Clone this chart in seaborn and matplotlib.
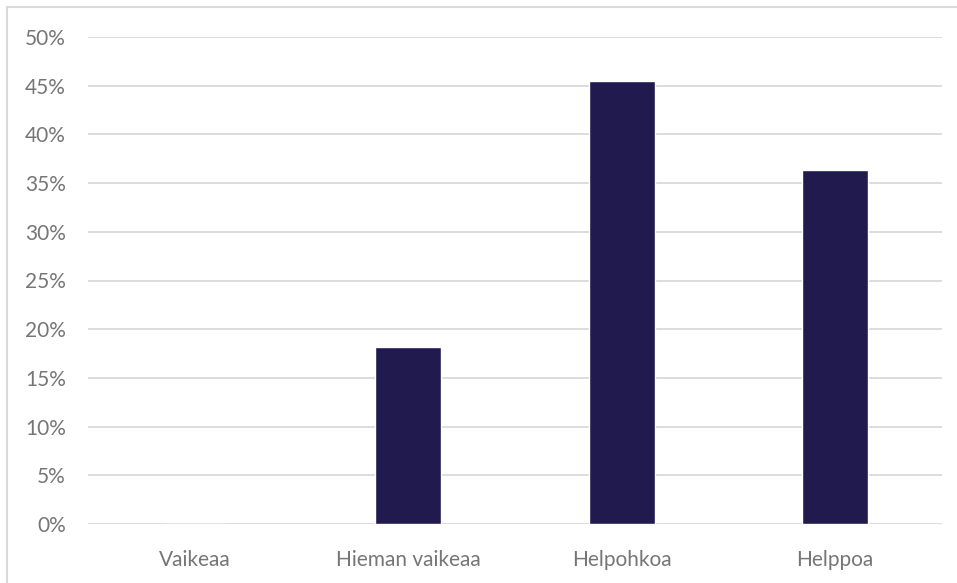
import matplotlib
matplotlib.use("Agg")
import matplotlib.pyplot as plt
import seaborn as sns
import pandas as pd
from matplotlib.patches import Rectangle
from matplotlib.ticker import PercentFormatter, MultipleLocator

categories = ["Vaikeaa", "Hieman vaikeaa", "Helpohkoa", "Helppoa"]
shares = [0.0, 2 / 11 * 100, 5 / 11 * 100, 4 / 11 * 100]

df = pd.DataFrame({"vastaus": categories, "osuus": shares})

sns.set_theme(style="white")
plt.rcParams["font.family"] = ["Lato", "DejaVu Sans"]

W, H = 957, 583
fig = plt.figure(figsize=(W / 100, H / 100), dpi=100)
fig.patch.set_facecolor("white")

# plot area in pixel coordinates
left, right, top, bottom = 88, 942, 37, 524
ax = fig.add_axes([left / W, 1 - bottom / H, (right - left) / W, (bottom - top) / H])

sns.barplot(data=df, x="vastaus", y="osuus", color="#201A4F", width=0.31,
            saturation=1, ax=ax, zorder=3)

ax.set_ylim(0, 50)
ax.set_xlim(-0.5, 3.5)
ax.yaxis.set_major_locator(MultipleLocator(5))
ax.yaxis.set_major_formatter(PercentFormatter(decimals=0))
ax.grid(axis="y", color="#D9D9D9", linewidth=1.3, zorder=0)
ax.set_axisbelow(True)
for s in ax.spines.values():
    s.set_visible(False)
ax.set_xlabel("")
ax.set_ylabel("")
ax.tick_params(axis="both", length=0, labelsize=15, colors="#767676")
ax.tick_params(axis="y", pad=16)
ax.tick_params(axis="x", pad=18.5)
for lbl in ax.get_yticklabels():
    lbl.set_horizontalalignment("right")

# chart frame (left and top edges visible)
fig.add_artist(Rectangle((6.5 / W, -0.05), 1.1, 1.05 - 6.5 / H, transform=fig.transFigure,
                         fill=False, edgecolor="#D9D9D9", linewidth=1.5))

fig.savefig("out.png", dpi=100, facecolor="white")
